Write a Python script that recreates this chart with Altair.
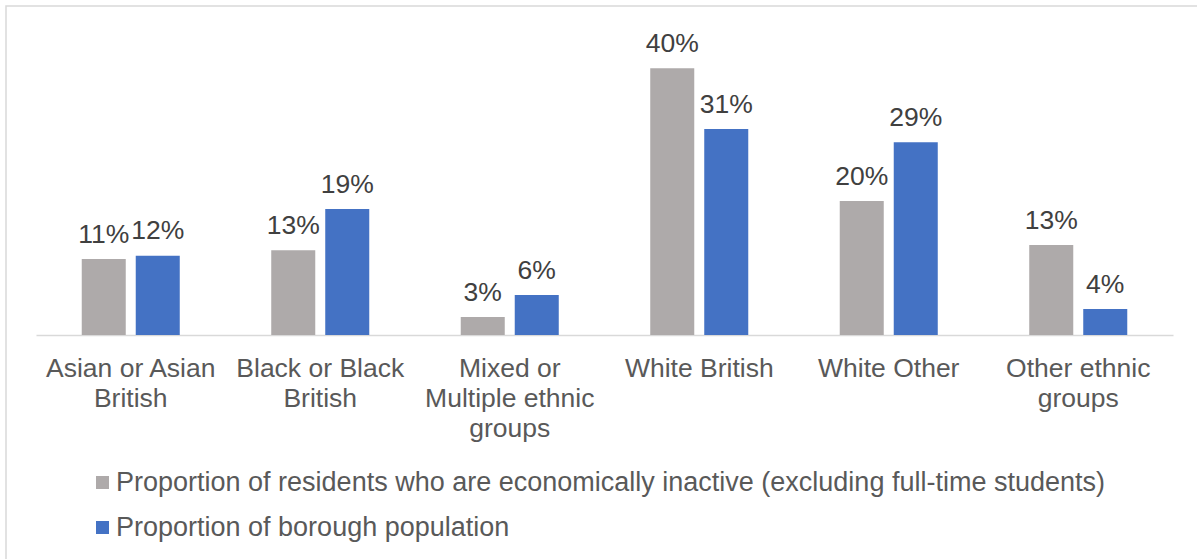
import json
import altair as alt
import pandas as pd

categories = ["Asian or Asian British", "Black or Black British",
              "Mixed or Multiple ethnic groups", "White British",
              "White Other", "Other ethnic groups"]
category_lines = [["Asian or Asian", "British"], ["Black or Black", "British"],
                  ["Mixed or", "Multiple ethnic", "groups"], ["White British"],
                  ["White Other"], ["Other ethnic", "groups"]]
series = ["Proportion of residents who are economically inactive (excluding full-time students)",
          "Proportion of borough population"]
inactive = [11.4, 12.7, 2.7, 40.0, 20.1, 13.5]
population = [11.9, 18.9, 6.0, 30.9, 28.9, 3.9]
inactive_labels = ["11%", "13%", "3%", "40%", "20%", "13%"]
population_labels = ["12%", "19%", "6%", "31%", "29%", "4%"]
colors = ["#AEAAAA", "#4472C4"]

rows = []
for i, c in enumerate(categories):
    rows.append({"cat": c, "series": series[0], "value": inactive[i], "label": inactive_labels[i]})
    rows.append({"cat": c, "series": series[1], "value": population[i], "label": population_labels[i]})
df = pd.DataFrame(rows)

label_map = json.dumps(dict(zip(categories, category_lines)))
FONT = "Liberation Sans, Arial, sans-serif"
FS = 26.5

x = alt.X("cat:N", sort=categories, title=None,
          scale=alt.Scale(paddingInner=0, paddingOuter=0),
          axis=alt.Axis(labelAngle=0, ticks=False, labelPadding=20,
                        labelFontSize=FS, labelFont=FONT, labelColor="#595959",
                        labelLineHeight=30, labelBaseline="top",
                        labelExpr=f"{label_map}[datum.label]",
                        domainColor="#D9D9D9", domainWidth=1.5,
                        labelLimit=400))
xo = alt.XOffset("series:N", sort=series,
                 scale=alt.Scale(paddingInner=0.185, paddingOuter=0.847))
y = alt.Y("value:Q", axis=None, scale=alt.Scale(domain=[0, 45], nice=False, zero=True))

bars = alt.Chart(df).mark_bar().encode(
    x=x, xOffset=xo, y=y,
    color=alt.Color("series:N", sort=series,
                    scale=alt.Scale(domain=series, range=colors),
                    legend=alt.Legend(title=None, orient="none", legendX=53, legendY=434,
                                      direction="vertical", symbolType="square",
                                      symbolSize=169, symbolStrokeWidth=0,
                                      labelFontSize=27, labelFont=FONT, labelColor="#595959",
                                      labelOffset=0, rowPadding=17, padding=0,
                                      labelLimit=1200)),
)

text = alt.Chart(df).mark_text(dy=-16.5, baseline="alphabetic", align="center",
                               fontSize=FS, font=FONT, color="#404040").encode(
    x=x, xOffset=xo, y=y, text="label:N")

border = alt.Chart(pd.DataFrame({"a": [0]})).mark_rect(
    fill="transparent", stroke="#D9D9D9", strokeWidth=1.5, clip=False).encode(
    x=alt.value(-30), x2=alt.value(1180), y=alt.value(-29), y2=alt.value(540))

chart = alt.layer(border, bars, text).properties(
    width=1137, height=300,
    autosize=alt.AutoSizeParams(type="none"),
    padding={"left": 36, "top": 35, "right": 24, "bottom": 224},
).configure_view(stroke=None)

chart.save("out.html", embed_options={"renderer": "svg", "actions": False})
